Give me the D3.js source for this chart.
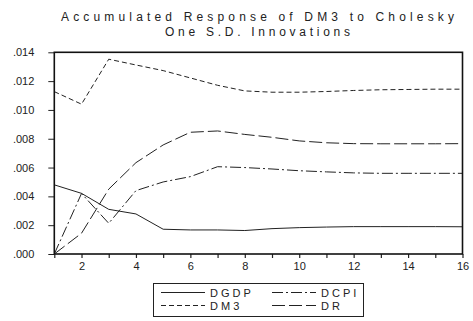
<!DOCTYPE html>
<html>
<head>
<meta charset="utf-8">
<script src="https://cdn.jsdelivr.net/npm/d3@7/dist/d3.min.js"></script>
<style>
  html, body { margin: 0; padding: 0; background: #fff; }
  svg { display: block; font-family: "Liberation Sans", Arial, sans-serif; }
</style>
</head>
<body>
<svg id="chart" width="473" height="321"></svg>
<script>
// Horizon (periods after the shock)
const periods = d3.range(1, 17);

// Accumulated responses of DM3 to each shock
const dgdp = [0.00480, 0.00421, 0.00310, 0.00278, 0.00172, 0.00167, 0.00167, 0.00163,
              0.00176, 0.00183, 0.00187, 0.00190, 0.00190, 0.00190, 0.00190, 0.00189];
const dcpi = [0.00000, 0.00420, 0.00213, 0.00440, 0.00500, 0.00537, 0.00606, 0.00600,
              0.00590, 0.00578, 0.00570, 0.00563, 0.00560, 0.00560, 0.00560, 0.00560];
const dm3  = [0.01127, 0.01040, 0.01352, 0.01312, 0.01273, 0.01222, 0.01171, 0.01132,
              0.01123, 0.01123, 0.01128, 0.01135, 0.01140, 0.01142, 0.01144, 0.01144];
const dr   = [0.00000, 0.00144, 0.00450, 0.00634, 0.00757, 0.00845, 0.00854, 0.00830,
              0.00810, 0.00785, 0.00772, 0.00766, 0.00765, 0.00765, 0.00765, 0.00766];

const seriesNames = ["DGDP", "DCPI", "DM3", "DR"];
const seriesLabels = ["D G D P", "D C P I", "D M 3", "D R"];
const yTicks = [0, 0.002, 0.004, 0.006, 0.008, 0.010, 0.012, 0.014];
const titleLines = ["Accumulated Response of DM3 to Cholesky", "One S.D. Innovations"];

const series = [
  { name: seriesNames[0], label: seriesLabels[0], values: dgdp, dash: null },
  { name: seriesNames[1], label: seriesLabels[1], values: dcpi, dash: "11,3,2,3" },
  { name: seriesNames[2], label: seriesLabels[2], values: dm3,  dash: "5,3" },
  { name: seriesNames[3], label: seriesLabels[3], values: dr,   dash: "13,4" }
];

const svg = d3.select("#chart");
const plot = { left: 54.3, right: 462.5, top: 52.3, bottom: 254 };

const x = d3.scaleLinear().domain([1, 16]).range([plot.left, plot.right]);
const y = d3.scaleLinear().domain([0, 0.014]).range([plot.bottom, plot.top]);

// Title
const title = svg.append("g").attr("fill", "#222").attr("font-size", 12);
title.append("text")
  .attr("x", 61).attr("y", 20.5)
  .attr("textLength", 393).attr("lengthAdjust", "spacing")
  .text(titleLines[0]);
title.append("text")
  .attr("x", 165).attr("y", 36)
  .attr("textLength", 185).attr("lengthAdjust", "spacing")
  .text(titleLines[1]);

// Y axis
const fmt = d => d3.format(".3f")(d).replace(/^0/, "");
const yAxis = svg.append("g")
  .attr("transform", `translate(${plot.left},0)`)
  .call(d3.axisLeft(y).tickValues(yTicks).tickSize(6).tickPadding(14).tickFormat(fmt));
yAxis.select(".domain").remove();
yAxis.selectAll("line").attr("stroke", "#222");
yAxis.selectAll("text").attr("font-size", 11).attr("fill", "#222")
  .attr("font-family", "Liberation Sans, Arial, sans-serif");

// X axis
const xAxis = svg.append("g")
  .attr("transform", `translate(0,${plot.bottom})`)
  .call(d3.axisBottom(x).tickValues(periods).tickSize(4).tickPadding(4.5)
    .tickFormat(d => d % 2 === 0 ? d : ""));
xAxis.select(".domain").remove();
xAxis.selectAll("line").attr("stroke", "#222").attr("stroke-width", 1.2);
xAxis.selectAll("text").attr("font-size", 11).attr("fill", "#222")
  .attr("font-family", "Liberation Sans, Arial, sans-serif");

// Response lines
const line = d3.line()
  .x((d, i) => x(periods[i]))
  .y(d => y(d));

svg.append("g").selectAll("path")
  .data(series)
  .join("path")
  .attr("d", d => line(d.values))
  .attr("fill", "none")
  .attr("stroke", "#222")
  .attr("stroke-width", 1)
  .attr("stroke-dasharray", d => d.dash);

// Frame
svg.append("rect")
  .attr("x", plot.left).attr("y", plot.top)
  .attr("width", plot.right - plot.left).attr("height", plot.bottom - plot.top)
  .attr("fill", "none").attr("stroke", "#111").attr("stroke-width", 1.6);

// Legend
const legend = svg.append("g");
legend.append("rect")
  .attr("x", 153.5).attr("y", 283.5).attr("width", 210).attr("height", 33)
  .attr("fill", "#fff").attr("stroke", "#222").attr("stroke-width", 1);

const legendPos = [
  { lx: 161, ly: 292.5 }, { lx: 272, ly: 292.5 },
  { lx: 161, ly: 305.5 }, { lx: 272, ly: 305.5 }
];
series.forEach((s, i) => {
  const p = legendPos[i];
  legend.append("line")
    .attr("x1", p.lx).attr("x2", p.lx + 44)
    .attr("y1", p.ly).attr("y2", p.ly)
    .attr("stroke", "#222").attr("stroke-width", 1)
    .attr("stroke-dasharray", s.dash);
  legend.append("text")
    .attr("x", p.lx + 49).attr("y", p.ly + 4)
    .attr("font-size", 11).attr("fill", "#222")
    .text(s.label);
});
</script>
</body>
</html>
